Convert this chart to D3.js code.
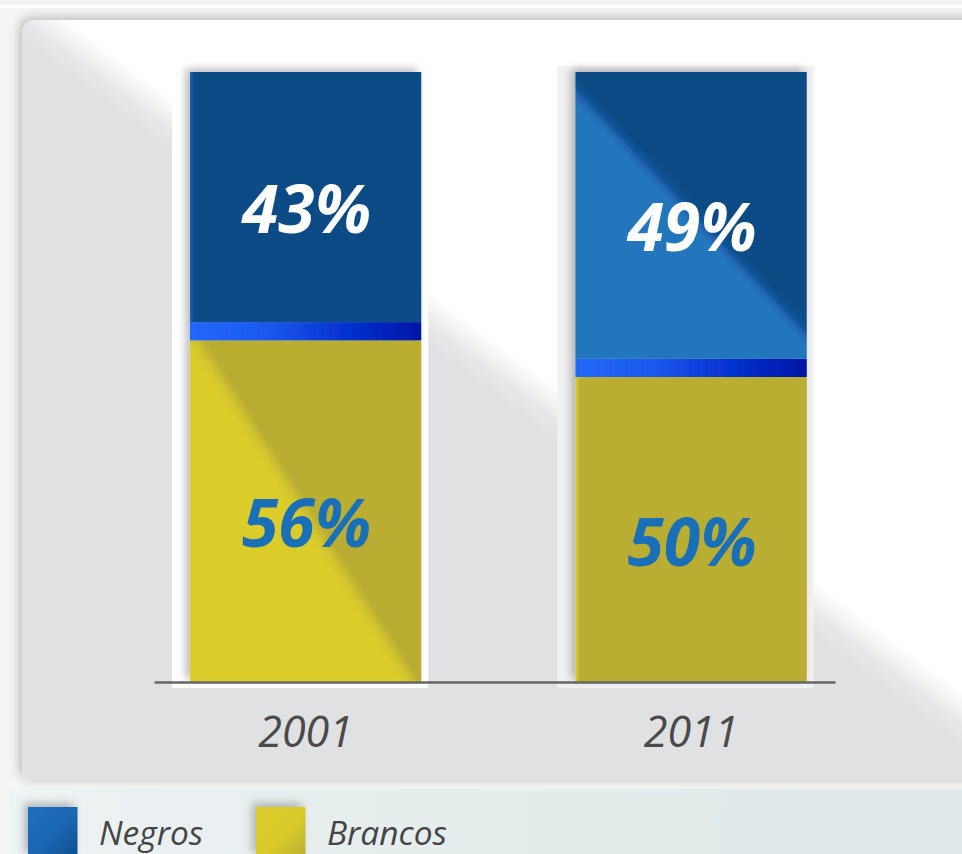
<!DOCTYPE html>
<html>
<head>
<meta charset="utf-8">
<script src="https://cdn.jsdelivr.net/npm/d3@7"></script>
<style>
  html, body { margin: 0; padding: 0; background: #f3f5f5; overflow: hidden; }
  svg { display: block; }
</style>
</head>
<body>
<script>
// ---------- data ----------
const categories = ["2001", "2011"];
const negros  = [43, 49];
const outros  = [3, 3];
const brancos = [56, 50];
const seriesNames = ["Negros", "Brancos"];
const percentLabel = v => v + "%";

// ---------- setup ----------
const W = 962, H = 854;
const svg = d3.select("body").append("svg").attr("width", W).attr("height", H);
const defs = svg.append("defs");

function addFilter(id, dx, dy, sd, op) {
  const f = defs.append("filter").attr("id", id)
    .attr("x", "-30%").attr("y", "-30%").attr("width", "160%").attr("height", "160%");
  f.append("feDropShadow").attr("dx", dx).attr("dy", dy).attr("stdDeviation", sd)
    .attr("flood-color", "#000").attr("flood-opacity", op);
}
addFilter("panelShadow", -3, -3, 5, 0.22);
addFilter("barShadow", -4, -3, 4, 0.28);
addFilter("swShadow", -4, -4, 4, 0.25);

function linGrad(id, x1, y1, x2, y2, stops) {
  const g = defs.append("linearGradient").attr("id", id)
    .attr("gradientUnits", "userSpaceOnUse")
    .attr("x1", x1).attr("y1", y1).attr("x2", x2).attr("y2", y2);
  stops.forEach(s => g.append("stop").attr("offset", s[0]).attr("stop-color", s[1]));
  return "url(#" + id + ")";
}
// gradient perpendicular to an edge p1->p2, light on lower-left side, dark on upper-right
function edgeGrad(id, p1, p2, hw, stops) {
  const dx = p2[0] - p1[0], dy = p2[1] - p1[1];
  const L = Math.hypot(dx, dy);
  const nx = dy / L, ny = -dx / L;
  const mx = (p1[0] + p2[0]) / 2, my = (p1[1] + p2[1]) / 2;
  return linGrad(id, mx - nx * hw, my - ny * hw, mx + nx * hw, my + ny * hw, stops);
}

// ---------- background ----------
svg.append("rect").attr("width", W).attr("height", H).attr("fill", "#f3f5f5");
svg.append("rect").attr("x", 0).attr("y", 5).attr("width", W).attr("height", 3).attr("fill", "#ffffff");
// legend band
svg.append("rect").attr("x", 10).attr("y", 789).attr("width", W).attr("height", 70)
  .attr("fill", linGrad("legBg", 0, 789, W, 854, [[0, "#eef3f4"], [0.5, "#e4ecec"], [1, "#dfe8e8"]]));

// panel
const panelFill = edgeGrad("panelGrad", [30, 18], [962, 718], 22,
  [[0, "#e0e1e3"], [0.35, "#e6e7e8"], [1, "#ffffff"]]);
svg.append("rect").attr("x", 22).attr("y", 20).attr("width", 980).attr("height", 763)
  .attr("rx", 13).attr("fill", panelFill).attr("filter", "url(#panelShadow)");
svg.append("line").attr("x1", 22).attr("x2", W).attr("y1", 784).attr("y2", 784)
  .attr("stroke", "#ececec").attr("stroke-width", 2);

// ---------- scales ----------
const x = d3.scaleBand().domain(categories).range([154, 835])
  .paddingInner(0.4).paddingOuter(0.0833).align(0.56);
const y = d3.scaleLinear().domain([0, 100]).range([682, 72]).clamp(true);

const rows = categories.map((c, i) => ({ cat: c, brancos: brancos[i], outros: outros[i], negros: negros[i] }));
const keys = ["brancos", "outros", "negros"];
const stacked = d3.stack().keys(keys)(rows);

// backing panels behind bars
const backFill = ["#ffffff", "#f1f1f1"];
svg.append("g").selectAll("rect").data(categories).join("rect")
  .attr("x", d => x(d) - 18)
  .attr("y", y(100) - 6)
  .attr("width", x.bandwidth() + 25)
  .attr("height", y(0) - y(100) + 12)
  .attr("fill", (d, i) => backFill[i]);

// fills per segment
function segFill(key, i, bx, by, bw, bh) {
  const id = key + i;
  if (key === "outros") {
    return linGrad(id, bx, 0, bx + bw, 0,
      [[0, "#2468fa"], [0.35, "#1b57ee"], [0.65, "#0634d2"], [1, "#0016a6"]]);
  }
  if (key === "negros") {
    if (i === 0) {
      return linGrad(id, bx, 0, bx + 4, 0, [[0, "#1a66b4"], [1, "#0f4c87"]]);
    }
    return edgeGrad(id, [bx + 0.004 * bw, by + 0.063 * bh], [bx + 0.996 * bw, by + 0.909 * bh], 9,
      [[0, "#2076bc"], [0.35, "#2564b0"], [0.6, "#0a5597"], [1, "#0f4c87"]]);
  }
  // brancos
  if (i === 0) {
    return edgeGrad(id, [bx + 0.02 * bw, by], [bx + 0.95 * bw, by + 0.994 * bh], 9,
      [[0, "#dccc2c"], [0.45, "#d3c42d"], [1, "#b9ad33"]]);
  }
  return linGrad(id, bx, 0, bx + 5, 0, [[0, "#dccc2c"], [1, "#b9ad33"]]);
}

const barsG = svg.append("g").attr("filter", "url(#barShadow)");
stacked.forEach(layer => {
  layer.forEach((d, i) => {
    const bx = x(d.data.cat), bw = x.bandwidth();
    const by = y(d[1]), bh = y(d[0]) - y(d[1]);
    barsG.append("rect")
      .attr("x", bx).attr("y", by).attr("width", bw).attr("height", bh)
      .attr("fill", segFill(layer.key, i, bx, by, bw, bh));
  });
});

// value labels
const labelStyle = { negros: "#ffffff", brancos: "#1a6fb9" };
stacked.filter(l => l.key !== "outros").forEach(layer => {
  svg.append("g").selectAll("text").data(layer).join("text")
    .attr("x", d => x(d.data.cat) + x.bandwidth() / 2 + 1)
    .attr("y", d => (y(d[0]) + y(d[1])) / 2 + 36)
    .attr("text-anchor", "middle")
    .attr("font-family", "'Open Sans', sans-serif")
    .attr("font-style", "italic")
    .attr("font-weight", 700)
    .attr("font-size", 66)
    .attr("fill", labelStyle[layer.key])
    .text(d => percentLabel(d.data[layer.key]));
});

// x axis
const axis = svg.append("g").attr("transform", "translate(0," + y(0) + ")")
  .call(d3.axisBottom(x).tickSize(0).tickSizeOuter(0));
axis.select(".domain").attr("stroke", "#666666").attr("stroke-width", 2.5);
axis.selectAll("text")
  .attr("dy", null).attr("y", 65)
  .attr("font-family", "'Open Sans', sans-serif")
  .attr("font-style", "italic")
  .attr("font-size", 43)
  .attr("fill", "#4a4a4a");

// legend
const legX = [28, 256];
const swFill = [
  linGrad("swN", 28, 807, 77, 856, [[0, "#1f70be"], [0.6, "#1a64b0"], [1, "#0d4f8f"]]),
  linGrad("swB", 256, 807, 306, 856, [[0, "#dccc2c"], [0.6, "#d8c82c"], [1, "#bcae30"]])
];
const leg = svg.append("g").selectAll("g").data(seriesNames).join("g");
leg.append("rect")
  .attr("x", (d, i) => legX[i]).attr("y", 807)
  .attr("width", 49.5).attr("height", 50)
  .attr("fill", (d, i) => swFill[i])
  .attr("filter", "url(#swShadow)");
leg.append("text")
  .attr("x", (d, i) => legX[i] + 71)
  .attr("y", 845)
  .attr("font-family", "'Open Sans', sans-serif")
  .attr("font-style", "italic")
  .attr("font-size", 33.5)
  .attr("fill", "#454545")
  .text(d => d);
</script>
</body>
</html>
